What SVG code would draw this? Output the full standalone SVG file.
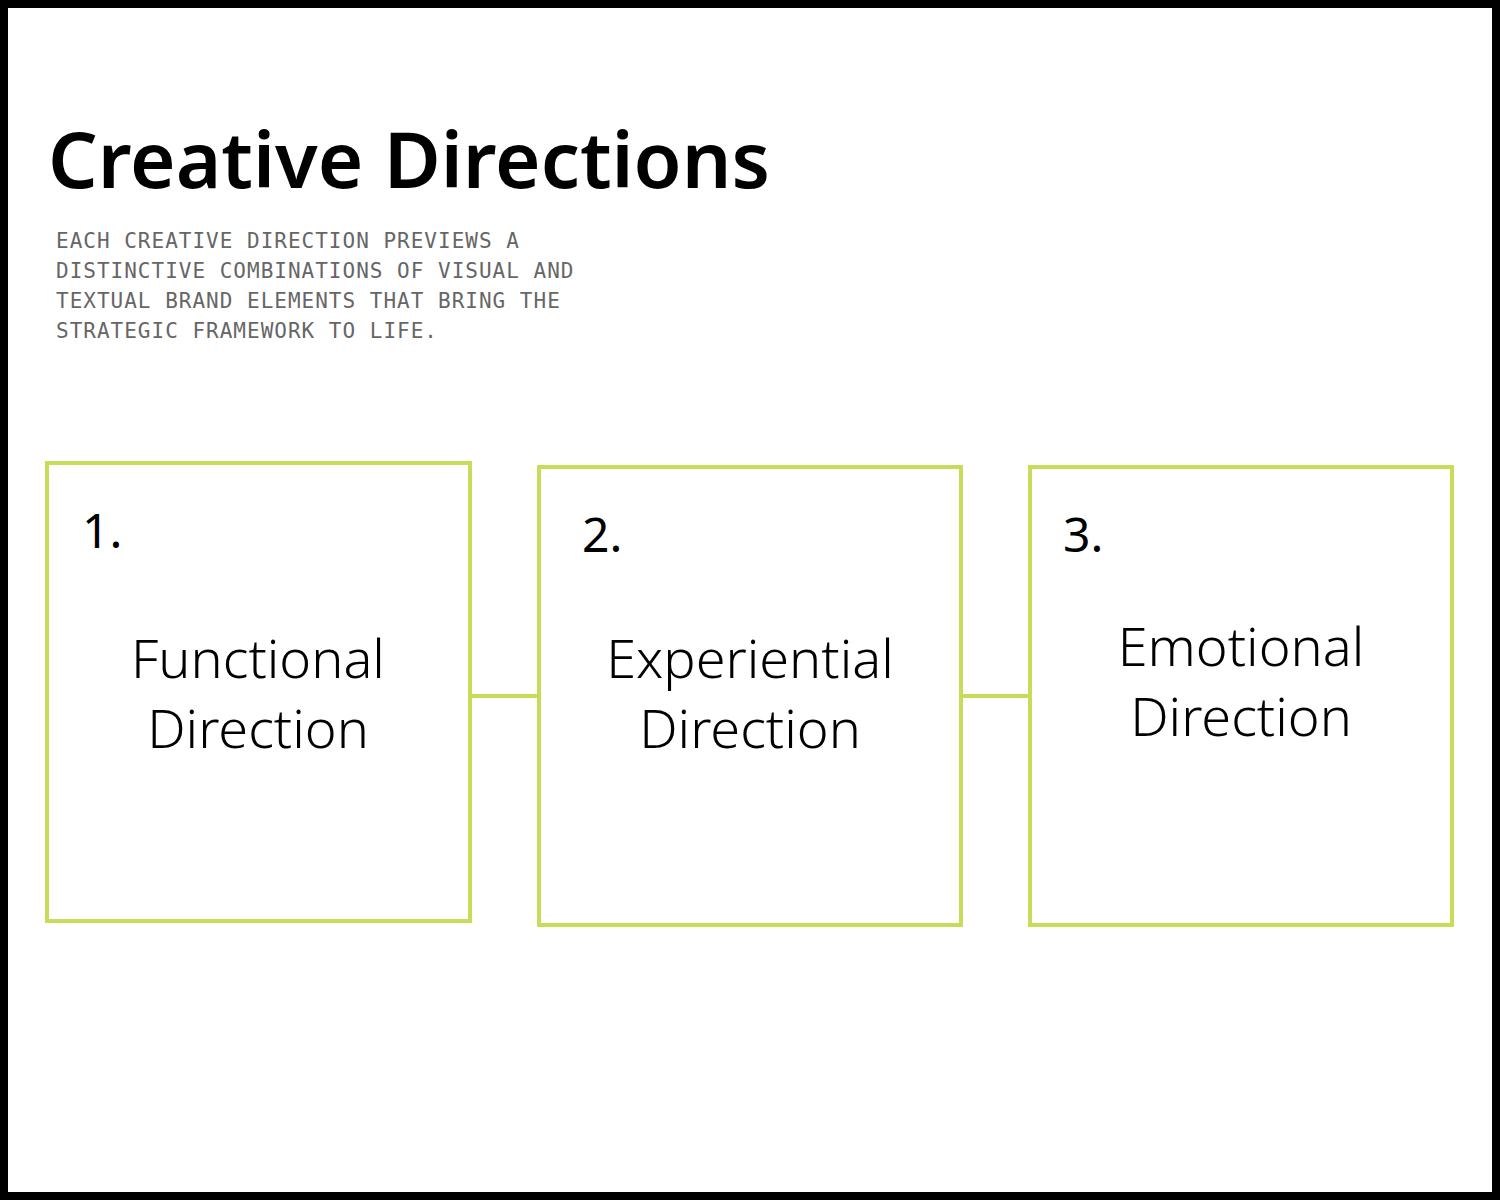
<svg xmlns="http://www.w3.org/2000/svg" width="1500" height="1200" viewBox="0 0 1500 1200">
<style>
.box{fill:#fff;stroke:#c8dc5a;stroke-width:4}
.num{font-family:"Noto Sans","Open Sans",sans-serif;font-size:48px;fill:#000}
.lbl{font-family:"Noto Sans","Open Sans",sans-serif;font-weight:300;font-size:54px;fill:#000;text-anchor:middle}
.sub{font-family:"DejaVu Sans Mono","Liberation Mono",monospace;font-size:21px;fill:#666;letter-spacing:1px}
</style>
<rect x="4" y="4" width="1492" height="1192" fill="#fff" stroke="#000" stroke-width="8"/>
<text x="48" y="188" font-family="Noto Sans,Open Sans,sans-serif" font-weight="600" font-size="78" fill="#000">Creative Directions</text>
<g class="sub">
<text x="56" y="248" class="sub">EACH CREATIVE DIRECTION PREVIEWS A</text>
<text x="56" y="278" class="sub">DISTINCTIVE COMBINATIONS OF VISUAL AND</text>
<text x="56" y="308" class="sub">TEXTUAL BRAND ELEMENTS THAT BRING THE</text>
<text x="56" y="338" class="sub">STRATEGIC FRAMEWORK TO LIFE.</text>
</g>
<g id="connectors" stroke="#c8dc5a" stroke-width="4">
<line x1="470" y1="696" x2="539" y2="696"/>
<line x1="961" y1="696" x2="1030" y2="696"/>
</g>
<g id="node1"><rect class="box" x="47" y="463" width="423" height="458"/>
<text class="num" x="82" y="548">1.</text>
<text class="lbl" x="258" y="678">Functional</text><text class="lbl" x="258" y="748">Direction</text></g>
<g id="node2"><rect class="box" x="539" y="467" width="422" height="458"/>
<text class="num" x="582" y="552">2.</text>
<text class="lbl" x="750" y="678">Experiential</text><text class="lbl" x="750" y="748">Direction</text></g>
<g id="node3"><rect class="box" x="1030" y="467" width="422" height="458"/>
<text class="num" x="1063" y="552">3.</text>
<text class="lbl" x="1241" y="666">Emotional</text><text class="lbl" x="1241" y="736">Direction</text></g>
</svg>
